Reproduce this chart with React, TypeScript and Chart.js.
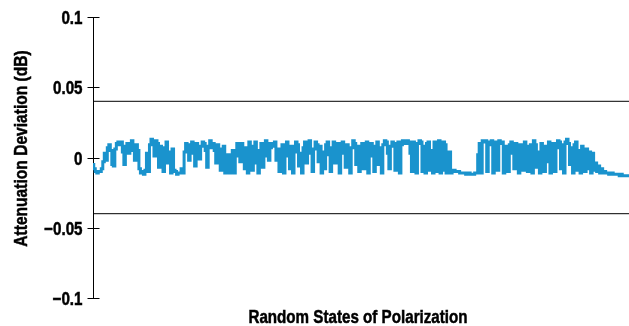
import React, { useEffect, useRef } from "react";
import { Chart, registerables } from "chart.js";

Chart.register(...registerables);

const yTickValues = [0.1, 0.05, 0, -0.05, -0.1];
const yTickLabels = ["0.1", "0.05", "0", "\u22120.05", "\u22120.1"];
const upperLimit = 0.04;
const lowerLimit = -0.04;
const yAxisTitle = "Attenuation Deviation (dB)";
const xAxisTitle = "Random States of Polarization";

const deviation = [
  -0.005, -0.008, -0.010, -0.011, -0.010, -0.010, -0.008, -0.003, 0.003, -0.002, 0.007, 0.009, 0.005, -0.005, -0.006, 0.006, 0.010, 0.011, 0.009, 0.011,
  0.004, -0.005, 0.008, 0.010, 0.003, 0.007, 0.012, 0.005, -0.002, 0.009, 0.005, -0.008, -0.011, -0.010, -0.012, -0.009, 0.003, -0.010, 0.009, 0.013,
  0.011, 0.001, 0.012, 0.010, -0.007, 0.008, 0.004, -0.010, 0.007, 0.011, -0.004, 0.004, -0.011, 0.006, -0.009, -0.010, -0.012, -0.011, -0.011, -0.008,
  -0.011, 0.004, 0.010, 0.007, -0.002, 0.009, 0.011, 0.003, -0.006, 0.010, 0.006, -0.001, 0.008, 0.011, 0.010, 0.005, -0.007, 0.008, 0.012, 0.007,
  0.010, 0.005, -0.004, 0.009, 0.006, -0.009, 0.004, 0.008, -0.011, -0.010, 0.002, -0.011, -0.009, 0.005, -0.011, 0.001, 0.010, 0.008, -0.003, 0.010,
  0.005, -0.008, 0.007, -0.011, 0.011, 0.002, -0.009, 0.008, 0.011, -0.004, -0.011, 0.005, 0.010, -0.007, 0.001, 0.012, 0.010, -0.002, 0.007, 0.010,
  0.008, 0.011, -0.002, 0.006, -0.010, 0.003, 0.009, -0.011, 0.006, 0.011, 0.001, -0.008, 0.008, -0.011, 0.004, 0.011, 0.009, -0.006, 0.003, -0.011,
  0.007, 0.011, -0.004, 0.008, 0.012, 0.003, -0.010, 0.006, 0.011, 0.009, -0.003, 0.008, -0.011, 0.004, -0.008, 0.009, 0.011, 0.002, -0.010, 0.007,
  0.011, -0.004, 0.006, 0.010, -0.011, 0.003, 0.011, 0.008, -0.007, 0.009, 0.002, -0.011, 0.007, 0.012, 0.010, -0.005, 0.008, -0.010, 0.003, 0.010,
  -0.008, 0.006, 0.011, -0.011, 0.004, 0.010, 0.001, -0.010, 0.008, 0.011, -0.005, 0.007, -0.011, 0.009, 0.012, 0.011, 0.003, -0.008, 0.008, 0.011,
  0.010, -0.009, 0.005, 0.011, -0.011, 0.009, 0.012, 0.011, 0.010, 0.012, 0.011, 0.003, -0.010, 0.011, 0.008, -0.011, 0.010, 0.012, 0.011, -0.010,
  0.008, -0.011, 0.010, 0.011, -0.009, 0.005, -0.011, 0.011, 0.007, -0.010, 0.012, -0.011, -0.009, 0.011, 0.009, -0.011, -0.010, 0.004, -0.011, -0.009,
  -0.009, -0.010, -0.010, -0.010, -0.011, -0.011, -0.011, -0.011, -0.012, -0.011, -0.011, -0.012, -0.012, -0.012, -0.011, -0.011, 0.002, 0.010, -0.011, 0.012,
  0.011, 0.012, -0.010, 0.011, 0.009, 0.012, -0.011, 0.010, 0.011, -0.009, 0.012, 0.010, 0.011, -0.011, 0.008, 0.005, -0.010, 0.009, 0.011, 0.003,
  -0.008, 0.010, 0.007, -0.011, 0.009, 0.002, -0.009, 0.011, 0.008, -0.010, 0.005, 0.009, -0.011, 0.012, 0.009, -0.007, 0.004, -0.011, 0.010, 0.006,
  -0.010, 0.008, -0.003, 0.011, -0.011, 0.009, 0.010, -0.010, 0.007, 0.012, 0.011, -0.008, 0.009, -0.011, 0.011, 0.013, 0.010, -0.005, 0.007, -0.011,
  0.009, 0.011, -0.009, 0.005, -0.011, 0.008, 0.002, -0.010, 0.006, -0.008, 0.004, -0.011, 0.003, -0.009, -0.004, -0.010, -0.006, -0.011, -0.008, -0.011,
  -0.010, -0.011, -0.011, -0.012, -0.011, -0.011, -0.012, -0.012, -0.012, -0.012, -0.013, -0.012, -0.013, -0.013, -0.013, -0.013, -0.013,
];

const SQUEEZE = 0.82;

function narrowText(ctx: CanvasRenderingContext2D, text: string, x: number, y: number, align: CanvasTextAlign, rot: number, size: number) {
  ctx.save();
  ctx.translate(x, y);
  if (rot) ctx.rotate(rot);
  ctx.scale(SQUEEZE, 1);
  ctx.font = `bold ${size}px 'Liberation Sans', Arial, sans-serif`;
  ctx.fillStyle = "#000";
  ctx.strokeStyle = "#000";
  ctx.lineWidth = 0.5;
  ctx.textAlign = align;
  ctx.textBaseline = "middle";
  ctx.fillText(text, 0, 0);
  ctx.strokeText(text, 0, 0);
  ctx.restore();
}

const axisDecor = {
  id: "axisDecor",
  afterDraw(chart: any) {
    const y = chart.scales.y;
    const area = chart.chartArea;
    const ctx = chart.ctx as CanvasRenderingContext2D;
    ctx.save();
    ctx.strokeStyle = "#000";
    ctx.lineWidth = 1;
    const ax = Math.round(area.left) + 0.5;
    yTickValues.forEach((v, i) => {
      const py = Math.round(y.getPixelForValue(v)) + 0.5;
      ctx.beginPath();
      ctx.moveTo(ax - 6, py);
      ctx.lineTo(ax + 6, py);
      ctx.stroke();
      narrowText(ctx, yTickLabels[i], ax - 11, py + 1, "right", 0, 18.5);
    });
    narrowText(ctx, yAxisTitle, 22, (area.top + area.bottom) / 2 - 9, "center", -Math.PI / 2, 19);
    narrowText(ctx, xAxisTitle, (area.left + area.right) / 2 - 3, 318, "center", 0, 18.5);
    ctx.restore();
  },
};

export default function App() {
  const ref = useRef<HTMLCanvasElement | null>(null);
  useEffect(() => {
    if (!ref.current) return;
    const n = deviation.length;
    const chart = new Chart(ref.current, {
      type: "line",
      data: {
        datasets: [
          {
            data: deviation.map((v, i) => ({ x: i, y: v })),
            borderColor: "#1a93cd",
            borderWidth: 3,
            pointRadius: 0,
            stepped: "middle",
            fill: false,
          },
          {
            data: [{ x: 0, y: upperLimit }, { x: n - 1, y: upperLimit }],
            borderColor: "#000",
            borderWidth: 1,
            pointRadius: 0,
          },
          {
            data: [{ x: 0, y: lowerLimit }, { x: n - 1, y: lowerLimit }],
            borderColor: "#000",
            borderWidth: 1,
            pointRadius: 0,
          },
        ],
      },
      options: {
        animation: false,
        responsive: false,
        layout: { padding: { top: 17, right: 0, left: 0, bottom: 0 } },
        plugins: { legend: { display: false }, tooltip: { enabled: false } },
        scales: {
          x: {
            type: "linear",
            min: 0,
            max: n - 1,
            grid: { display: false },
            border: { display: false },
            ticks: { display: false },
            afterFit(scale: any) {
              scale.height = 28;
            },
          },
          y: {
            min: -0.1,
            max: 0.1,
            grid: { display: false },
            border: { display: true, color: "#000", width: 1 },
            ticks: { display: false, stepSize: 0.05 },
            afterFit(scale: any) {
              scale.width = 93;
            },
          },
        },
      },
      plugins: [axisDecor],
    });
    return () => chart.destroy();
  }, []);
  return (
    <div style={{ position: "fixed", left: 0, top: 0, width: 629, height: 326, background: "#fff" }}>
      <canvas ref={ref} width={629} height={326} style={{ display: "block" }} />
    </div>
  );
}
